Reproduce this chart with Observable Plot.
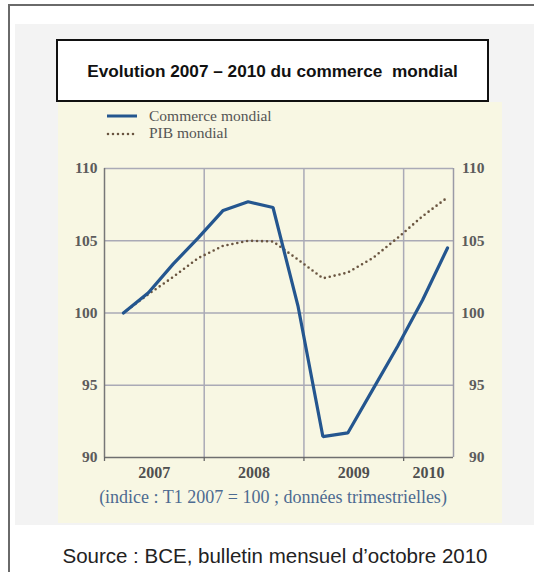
<!DOCTYPE html>
<html>
<head>
<meta charset="utf-8">
<script src="https://cdn.jsdelivr.net/npm/d3@7"></script>
<script src="https://cdn.jsdelivr.net/npm/@observablehq/plot@0.6"></script>
<style>
  html, body { margin: 0; padding: 0; background: #ffffff; overflow: hidden; }
  #page { position: relative; width: 534px; height: 572px; overflow: hidden; }
  .abs { position: absolute; }
  #outer { left: 8px; top: 4px; width: 540px; height: 580px; border-top: 2px solid #6a6a6a; border-left: 2px solid #6a6a6a; }
  #panel { left: 15px; top: 24px; width: 530px; height: 501px; background: #f3f3f3; }
  #yellow { left: 58px; top: 102px; width: 444px; height: 421px; background: #f8f7e3; }
  #titlebox { left: 56px; top: 39px; width: 429px; height: 59px; background: #ffffff; border: 2px solid #111; box-sizing: content-box; }
  #title { left: 56px; top: 61px; width: 433px; text-align: center; font: bold 17.2px "Liberation Sans", Arial, sans-serif; color: #111; line-height: 20px; }
  .legtext { font: 15.5px "Liberation Serif", "Times New Roman", serif; color: #555; line-height: 16px; }
  #caption { left: 0; top: 487px; width: 546px; text-align: center; font: 18px "Liberation Serif", "Times New Roman", serif; color: #4d6b91; line-height: 20px; }
  #source { left: 0; top: 544px; width: 550px; text-align: center; font: 20.5px "Liberation Sans", Arial, sans-serif; color: #222; line-height: 24px; }
  #chart { left: 0; top: 0; }
</style>
</head>
<body>
<div id="page">
  <div id="outer" class="abs"></div>
  <div id="panel" class="abs"></div>
  <div id="yellow" class="abs"></div>
  <div id="titlebox" class="abs"></div>
  <div id="title" class="abs">Evolution 2007 – 2010 du commerce&nbsp; mondial</div>
  <svg class="abs" style="left:0;top:0" width="534" height="572">
    <line x1="107" x2="137" y1="116" y2="116" stroke="#24568f" stroke-width="3"/>
    <line x1="108" x2="137" y1="134" y2="134" stroke="#6a5540" stroke-width="2.6" stroke-dasharray="0,5" stroke-linecap="round"/>
  </svg>
  <div class="abs legtext" style="left:149px;top:108px">Commerce mondial</div>
  <div class="abs legtext" style="left:149px;top:125px">PIB mondial</div>
  <div id="chart" class="abs"></div>
  <div id="caption" class="abs">(indice : T1 2007 = 100 ; données trimestrielles)</div>
  <div id="source" class="abs">Source : BCE, bulletin mensuel d’octobre 2010</div>
</div>
<script>
// Data (index: T1 2007 = 100; quarterly)
const quarters = ["T1 2007","T2 2007","T3 2007","T4 2007",
                  "T1 2008","T2 2008","T3 2008","T4 2008",
                  "T1 2009","T2 2009","T3 2009","T4 2009",
                  "T1 2010","T2 2010"];
const commerce = [100, 101.4, 103.4, 105.2, 107.1, 107.7, 107.3, 100.5, 91.45, 91.7, 94.7, 97.7, 100.9, 104.5];
const pib      = [100, 101.3, 102.5, 103.8, 104.65, 105.0, 104.95, 103.7, 102.4, 102.8, 103.8, 105.2, 106.7, 108.0];
const years = [2007, 2008, 2009, 2010];
const yTicks = [90, 95, 100, 105, 110];

// layout constants
const xStart = 2007, xEnd = 2010.5, pointOffset = 0.19;
const qpos = (label) => {
  const [t, y] = label.split(" ");
  return +y + (+t.slice(1) - 1) / 4 + pointOffset;
};
const rows = quarters.map((q, i) => ({x: qpos(q), commerce: commerce[i], pib: pib[i]}));
const yearLabels = years.map(y => ({label: String(y), x: (y + Math.min(y + 1, xEnd)) / 2}));

const grid = "#aaaab6";
const chart = Plot.plot({
  width: 534,
  height: 572,
  marginLeft: 104,
  marginRight: 81,
  marginTop: 168,
  marginBottom: 115,
  style: {fontFamily: "'Liberation Serif', 'Times New Roman', serif", fontSize: "15px", color: "#4a4a4a", background: "transparent", overflow: "visible"},
  x: {domain: [xStart, xEnd], label: null},
  y: {domain: [90, 110], label: null},
  marks: [
    Plot.ruleX(years.slice(1), {stroke: grid, strokeWidth: 1.5}),
    Plot.ruleY(yTicks.slice(1, -1), {stroke: grid, strokeWidth: 1.5}),
    Plot.ruleY([110], {stroke: grid, strokeWidth: 1.5}),
    Plot.ruleX([xEnd], {stroke: "#9a9aa6", strokeWidth: 1.5}),
    Plot.ruleX([xStart], {stroke: "#777", strokeWidth: 1.5}),
    Plot.ruleY([90], {stroke: "#6f6f6f", strokeWidth: 1.5}),
    Plot.axisX(years, {tickSize: 4, tickFormat: () => "", stroke: "#666", strokeWidth: 1.3, label: null}),
    Plot.axisY(yTicks, {anchor: "left", tickSize: 0, tickPadding: 7, fontSize: 15.5, fontWeight: "bold", fill: "#5c5c5c", label: null}),
    Plot.axisY(yTicks, {anchor: "right", tickSize: 0, tickPadding: 0, dx: 31, textAnchor: "end", fontSize: 15.5, fontWeight: "bold", fill: "#5c5c5c", label: null}),
    Plot.text(yearLabels, {x: "x", y: () => 90, text: "label", dy: 15, fontSize: 16, fontWeight: "bold", fill: "#4f4f4f"}),
    Plot.line(rows, {x: "x", y: "pib", stroke: "#6a5540", strokeWidth: 2.6, strokeDasharray: "0,5", strokeLinecap: "round"}),
    Plot.line(rows, {x: "x", y: "commerce", stroke: "#24568f", strokeWidth: 3.2, strokeLinejoin: "miter"})
  ]
});
document.getElementById("chart").appendChild(chart);
</script>
</body>
</html>
